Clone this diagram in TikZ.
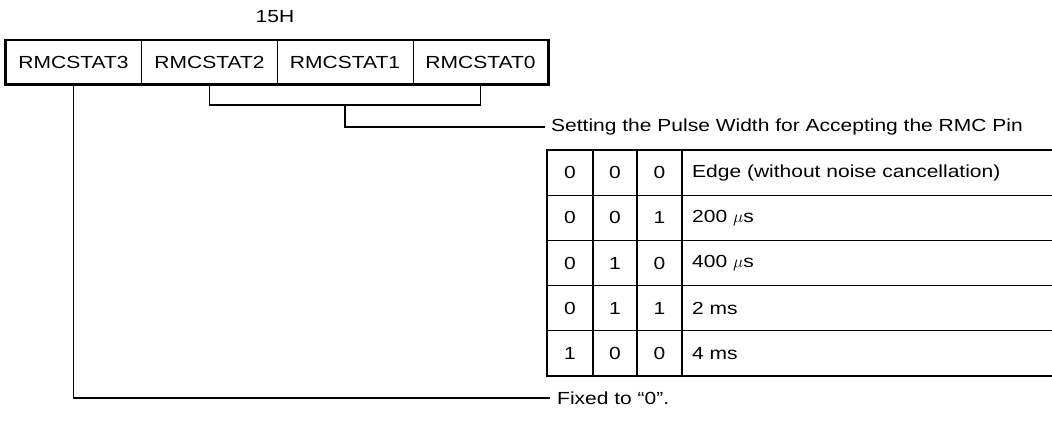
\documentclass[tikz,border=0pt]{standalone}
\usepackage{fontspec}
\setmainfont{Liberation Sans}[FakeStretch=1.2]
\begin{document}
\begin{tikzpicture}[x=1pt,y=-1pt,
  thick border/.style={line width=2.6pt},
  thin rule/.style={line width=1.3pt},
  conn/.style={line width=1.4pt},
  regcell/.style={draw=none,minimum width=136pt,minimum height=44pt,inner sep=0pt,font=\fontsize{17.5}{18}\selectfont},
  tcell/.style={inner sep=0pt,font=\fontsize{17.5}{18}\selectfont},
  lbl/.style={inner sep=0pt,anchor=west,font=\fontsize{17.5}{18}\selectfont}]
\useasboundingbox (0,0) rectangle (1052,432);
% title
\node[inner sep=0pt,font=\fontsize{17.5}{18}\selectfont] (title) at (275,17) {15H};
% register cells
\node[regcell] (c3) at (73.5,62) {RMCSTAT3};
\node[regcell] (c2) at (209.5,62) {RMCSTAT2};
\node[regcell] (c1) at (345,62) {RMCSTAT1};
\node[regcell] (c0) at (480.5,62) {RMCSTAT0};
\draw[thin rule] (c3.north east) -- (c3.south east);
\draw[thin rule] (c2.north east) -- (c2.south east);
\draw[thin rule] (c1.north east) -- (c1.south east);
\draw[thick border] (c3.north west) rectangle (c0.south east);
% bracket for RMCSTAT2..0
\coordinate (bl) at (209.5,105);
\coordinate (br) at (480.5,105);
\coordinate (bm) at (345,105);
\coordinate (bm2) at (345,127);
\node[lbl] (pulse) at (551,127) {Setting the Pulse Width for Accepting the RMC Pin};
\draw[conn] (c2.south) -- (bl) -- (br) -- (c0.south);
\draw[conn] (bm) -- (bm2) -- ([xshift=-6pt]pulse.west);
% fixed line
\coordinate (fc) at (73.5,398);
\node[lbl] (fixed) at (557,398) {Fixed to “0”.};
\draw[conn] (c3.south) -- (fc) -- ([xshift=-7pt]fixed.west);
% table
\foreach \y in {195.2,240.4,285.6,330.8}
  \draw[thin rule] (547,\y) -- (1056,\y);
\draw[thin rule] (593,150) -- (593,376);
\draw[thin rule] (637,150) -- (637,376);
\draw[line width=2.2pt] (682,150) -- (682,376);
\draw[line width=2.4pt] (1056,150) -- (547,150) -- (547,376) -- (1056,376);
% table text
\node[tcell] (r1a) at (570,172.6) {0};
\node[tcell] (r1b) at (615,172.6) {0};
\node[tcell] (r1c) at (659.5,172.6) {0};
\node[tcell,anchor=west] (r1d) at (692,172.6) {Edge (without noise cancellation)};
\node[tcell] (r2a) at (570,217.8) {0};
\node[tcell] (r2b) at (615,217.8) {0};
\node[tcell] (r2c) at (659.5,217.8) {1};
\node[tcell,anchor=west] (r2d) at (692,217.8) {200 $\mu$s};
\node[tcell] (r3a) at (570,263) {0};
\node[tcell] (r3b) at (615,263) {1};
\node[tcell] (r3c) at (659.5,263) {0};
\node[tcell,anchor=west] (r3d) at (692,263) {400 $\mu$s};
\node[tcell] (r4a) at (570,308.2) {0};
\node[tcell] (r4b) at (615,308.2) {1};
\node[tcell] (r4c) at (659.5,308.2) {1};
\node[tcell,anchor=west] (r4d) at (692,308.2) {2 ms};
\node[tcell] (r5a) at (570,353.4) {1};
\node[tcell] (r5b) at (615,353.4) {0};
\node[tcell] (r5c) at (659.5,353.4) {0};
\node[tcell,anchor=west] (r5d) at (692,353.4) {4 ms};
\end{tikzpicture}
\end{document}
